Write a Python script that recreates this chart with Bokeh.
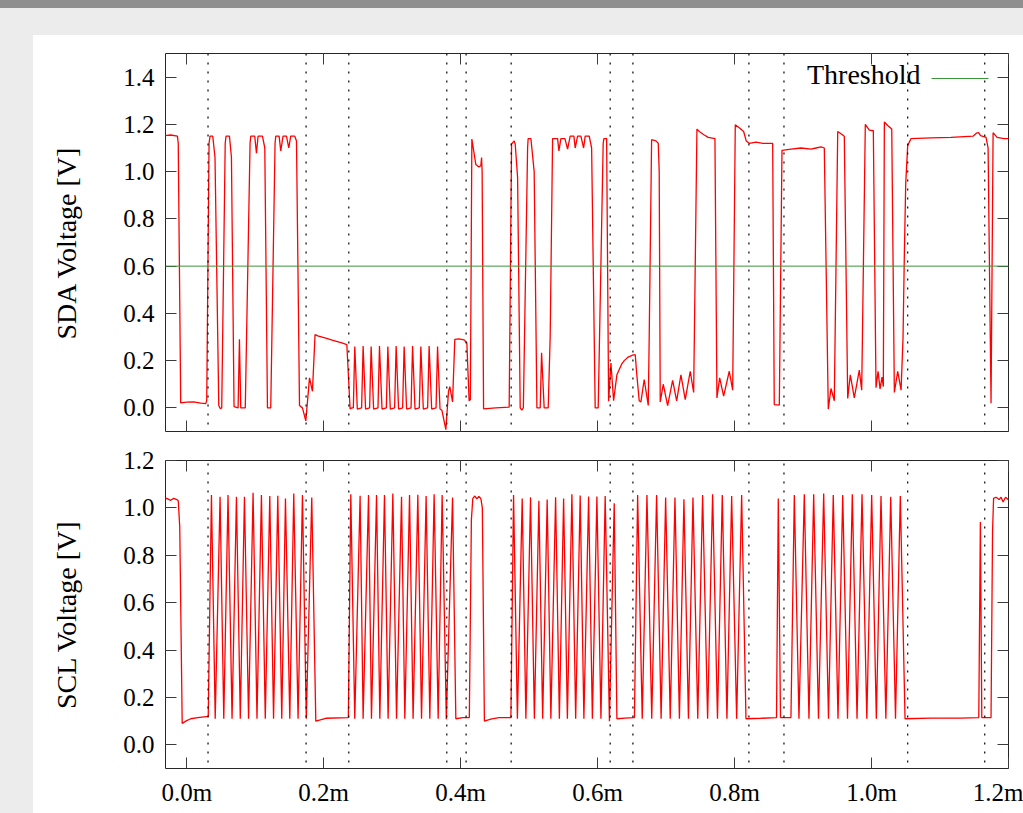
from bokeh.plotting import figure
from bokeh.models import (Range1d, LinearAxis, FixedTicker, PrintfTickFormatter,
                          CustomJSTickFormatter, Span, Arrow, Label, Spacer)
from bokeh.layouts import column, row
from bokeh.embed import file_html
from bokeh.resources import INLINE

# ---------------- data (time in ms, voltage in V) ----------------
sda_points = [
    (-0.0380, 1.15), (-0.0234, 1.155), (-0.0136, 1.15), (-0.0124, 1.12), (-0.0088, 0.021),
    (0.0000, 0.024), (0.0102, 0.025), (0.0205, 0.020), (0.0278, 0.018), (0.0292, 0.03),
    (0.0326, 1.12), (0.0340, 1.15), (0.0380, 1.15), (0.0413, 1.06), (0.0468, 0.01),
    (0.0489, -0.003), (0.0511, 0.0), (0.0562, 1.12), (0.0574, 1.15), (0.0624, 1.15),
    (0.0653, 1.06), (0.0691, 0.005), (0.0750, 0.0), (0.0770, 0.29), (0.0789, 0.0),
    (0.0855, 0.0), (0.0925, 1.12), (0.0935, 1.15), (0.0993, 1.15), (0.1018, 1.078),
    (0.1042, 1.15), (0.1106, 1.15), (0.1140, 1.10), (0.1179, 0.0), (0.1227, 0.0),
    (0.1290, 1.12), (0.1300, 1.15), (0.1349, 1.15), (0.1373, 1.088), (0.1407, 1.15),
    (0.1457, 1.15), (0.1490, 1.10), (0.1519, 1.15), (0.1578, 1.15), (0.1603, 1.13),
    (0.1647, 0.01), (0.1690, 0.0), (0.1739, -0.055), (0.1793, 0.127), (0.1836, 0.07),
    (0.1874, 0.31), (0.1914, 0.305), (0.2031, 0.295), (0.2148, 0.285), (0.2265, 0.275),
    (0.2338, 0.268), (0.2386, -0.005), (0.2411, 0.0),
    (0.2433, 0.0), (0.2454, 0.26), (0.2491, -0.005),
    (0.2554, 0.0), (0.2576, 0.262), (0.2612, -0.005),
    (0.2671, 0.0), (0.2693, 0.26), (0.2729, -0.005),
    (0.2793, 0.0), (0.2815, 0.262), (0.2852, -0.005),
    (0.2915, 0.0), (0.2937, 0.26), (0.2973, -0.005),
    (0.3036, 0.0), (0.3058, 0.262), (0.3094, -0.005),
    (0.3153, 0.0), (0.3175, 0.26), (0.3211, -0.005),
    (0.3276, 0.0), (0.3298, 0.262), (0.3334, -0.005),
    (0.3397, 0.0), (0.3419, 0.26), (0.3455, -0.005),
    (0.3518, 0.0), (0.3540, 0.262), (0.3577, -0.005),
    (0.3641, 0.0), (0.3663, 0.26), (0.3699, -0.005),
    (0.3726, -0.01), (0.3784, -0.092), (0.3823, 0.07), (0.3842, 0.09), (0.3882, 0.025),
    (0.3915, 0.29), (0.3974, 0.292), (0.4051, 0.288), (0.4091, 0.275), (0.4124, 0.03),
    (0.4142, 0.035), (0.4164, 1.138), (0.4222, 1.03), (0.4266, 1.02), (0.4295, 1.025),
    (0.4306, 1.06), (0.4314, 1.0), (0.4335, -0.004), (0.4514, 0.0), (0.4709, 0.003),
    (0.4744, 1.117), (0.4782, 1.13), (0.4797, 1.117), (0.4832, 0.975), (0.4870, 0.0),
    (0.4894, -0.01), (0.4916, 0.0), (0.4978, 1.1), (0.4986, 1.14), (0.5026, 1.14),
    (0.5074, 1.0), (0.5114, 0.0), (0.5162, 0.0), (0.5182, 0.233), (0.5220, 0.0),
    (0.5279, 0.0), (0.5308, 0.304), (0.5343, 1.14), (0.5416, 1.14), (0.5435, 1.088),
    (0.5464, 1.14), (0.5523, 1.14), (0.5562, 1.095), (0.5600, 1.15), (0.5654, 1.15),
    (0.5673, 1.10), (0.5708, 1.15), (0.5756, 1.15), (0.5796, 1.10), (0.5819, 1.15),
    (0.5878, 1.15), (0.5913, 1.10), (0.5965, 0.0), (0.6009, 0.0), (0.6082, 1.12),
    (0.6092, 1.14), (0.6132, 1.14), (0.6161, 0.028), (0.6195, 0.19), (0.6234, 0.03),
    (0.6282, 0.14), (0.6351, 0.185), (0.6389, 0.20), (0.6447, 0.215), (0.6512, 0.223),
    (0.6550, 0.225), (0.6570, 0.15), (0.6608, 0.03), (0.6633, 0.025), (0.6681, 0.12),
    (0.6740, 0.01), (0.6754, 0.3), (0.6789, 1.135), (0.6852, 1.13), (0.6886, 1.12),
    (0.6900, 1.0), (0.6915, 0.025), (0.6959, 0.10), (0.7023, 0.01), (0.7096, 0.116),
    (0.7155, 0.03), (0.7217, 0.14), (0.7280, 0.035), (0.7353, 0.155), (0.7403, 0.065),
    (0.7451, 1.18), (0.7485, 1.17), (0.7558, 1.155), (0.7616, 1.145), (0.7714, 1.14),
    (0.7743, 0.042), (0.7783, 0.127), (0.7841, 0.05), (0.7923, 0.155), (0.7973, 0.075),
    (0.8011, 1.198), (0.8069, 1.186), (0.8133, 1.17), (0.8171, 1.13), (0.8215, 1.12),
    (0.8313, 1.125), (0.8415, 1.12), (0.8557, 1.12), (0.8580, 0.014), (0.8654, 0.012),
    (0.8693, 1.09), (0.8824, 1.095), (0.8971, 1.10), (0.9117, 1.095), (0.9190, 1.10),
    (0.9263, 1.105), (0.9311, 1.10), (0.9369, -0.005), (0.9409, 0.082), (0.9457, 0.03),
    (0.9507, 1.17), (0.9555, 1.16), (0.9603, 1.15), (0.9653, 0.04), (0.9691, 0.14),
    (0.9749, 0.042), (0.9822, 0.16), (0.9857, 0.075), (0.9910, 1.2), (0.9968, 1.176),
    (1.0027, 1.173), (1.0066, 0.085), (1.0096, 0.155), (1.0125, 0.08), (1.0154, 0.13),
    (1.0173, 0.09), (1.0188, 1.21), (1.0237, 1.195), (1.0296, 1.18), (1.0334, 0.065),
    (1.0383, 0.155), (1.0432, 0.075), (1.0461, 0.3), (1.0480, 0.65), (1.0500, 0.95),
    (1.0529, 1.11), (1.0578, 1.14), (1.0870, 1.143), (1.1162, 1.145), (1.1483, 1.15),
    (1.1535, 1.163), (1.1564, 1.165), (1.1593, 1.152), (1.1673, 1.145), (1.1703, 1.10),
    (1.1746, 0.02), (1.1776, 1.165), (1.1834, 1.145), (1.1936, 1.14), (1.2068, 1.14),
]

scl_points = [
    (-0.0380, 1.035), (-0.0292, 1.04), (-0.0234, 1.032), (-0.0190, 1.04), (-0.0146, 1.035),
    (-0.0124, 1.03), (-0.0102, 0.92), (-0.0066, 0.09), (-0.0015, 0.10), (0.0058, 0.11),
    (0.0161, 0.115), (0.0314, 0.12),
    # burst 1
    (0.0361, 1.054), (0.0416, 0.11), (0.0487, 1.047), (0.0541, 0.11), (0.0603, 1.054),
    (0.0662, 0.11), (0.0726, 1.047), (0.0782, 0.11), (0.0843, 1.047), (0.0903, 0.11),
    (0.0969, 1.064), (0.1026, 0.11), (0.1091, 1.054), (0.1147, 0.11), (0.1213, 1.050),
    (0.1268, 0.11), (0.1330, 1.051), (0.1388, 0.11), (0.1442, 1.040), (0.1505, 0.11),
    (0.1563, 1.061), (0.1626, 0.11), (0.1690, 1.054), (0.1746, 0.11), (0.1826, 1.044),
    (0.1885, 0.10), (0.2031, 0.112), (0.2360, 0.115),
    # burst 2
    (0.2396, 1.058), (0.2454, 0.11), (0.2532, 1.051), (0.2576, 0.11), (0.2655, 1.054),
    (0.2698, 0.11), (0.2772, 1.054), (0.2820, 0.11), (0.2888, 1.054), (0.2941, 0.11),
    (0.3010, 1.061), (0.3064, 0.11), (0.3137, 1.047), (0.3185, 0.11), (0.3254, 1.054),
    (0.3306, 0.11), (0.3375, 1.055), (0.3429, 0.11), (0.3496, 1.050), (0.3550, 0.11),
    (0.3613, 1.058), (0.3672, 0.11), (0.3730, 1.054), (0.3791, 0.108), (0.3882, 1.044),
    (0.3930, 0.11), (0.4032, 0.115), (0.4127, 0.115), (0.4157, 0.95), (0.4178, 1.04),
    (0.4208, 1.05), (0.4237, 1.038), (0.4266, 1.048), (0.4295, 1.04), (0.4317, 1.0),
    (0.4347, 0.10), (0.4441, 0.108), (0.4558, 0.115), (0.4734, 0.115),
    # burst 3
    (0.4773, 1.054), (0.4829, 0.11), (0.4899, 1.04), (0.4953, 0.11), (0.5021, 1.045),
    (0.5077, 0.11), (0.5143, 1.03), (0.5198, 0.11), (0.5264, 1.035), (0.5318, 0.11),
    (0.5387, 1.045), (0.5442, 0.11), (0.5504, 1.04), (0.5559, 0.11), (0.5625, 1.058),
    (0.5680, 0.11), (0.5746, 1.052), (0.5800, 0.11), (0.5869, 1.048), (0.5924, 0.11),
    (0.5990, 1.048), (0.6049, 0.11), (0.6111, 1.05), (0.6173, 0.10), (0.6243, 1.02),
    (0.6282, 0.11), (0.6399, 0.113), (0.6538, 0.115),
    # burst 4
    (0.6585, 1.054), (0.6652, 0.11), (0.6721, 1.054), (0.6791, 0.11), (0.6862, 1.054),
    (0.6928, 0.11), (0.6994, 1.044), (0.7061, 0.11), (0.7130, 1.044), (0.7195, 0.11),
    (0.7261, 1.036), (0.7327, 0.11), (0.7393, 1.044), (0.7463, 0.11), (0.7534, 1.054),
    (0.7607, 0.11), (0.7680, 1.058), (0.7751, 0.11), (0.7821, 1.054), (0.7889, 0.11),
    (0.7958, 1.050), (0.8031, 0.11), (0.8104, 1.054), (0.8167, 0.11),
    (0.8386, 0.112), (0.8613, 0.115), (0.8639, 1.04), (0.8671, 0.115), (0.8824, 0.115),
    # burst 5
    (0.8873, 1.054), (0.8941, 0.11), (0.9019, 1.058), (0.9087, 0.11), (0.9156, 1.058),
    (0.9226, 0.11), (0.9302, 1.061), (0.9372, 0.11), (0.9442, 1.054), (0.9511, 0.11),
    (0.9580, 1.054), (0.9650, 0.11), (0.9720, 1.058), (0.9789, 0.11), (0.9862, 1.058),
    (0.9932, 0.11), (1.0003, 1.054), (1.0071, 0.11), (1.0139, 1.050), (1.0210, 0.11),
    (1.0281, 1.047), (1.0351, 0.11), (1.0421, 1.050), (1.0490, 0.11),
    (1.0870, 0.113), (1.1308, 0.113), (1.1567, 0.115), (1.1590, 0.94), (1.1611, 0.115),
    (1.1746, 0.115), (1.1768, 0.9), (1.1783, 1.04), (1.1820, 1.045), (1.1863, 1.035),
    (1.1893, 1.045), (1.1922, 1.025), (1.1958, 1.045), (1.1995, 1.035), (1.2068, 1.04),
]

marker_times = [0.0311, 0.1743, 0.2367, 0.3798, 0.4080, 0.4738,
                0.6184, 0.6516, 0.8210, 0.8722, 1.0529, 1.1654]
threshold_v = 0.6
threshold_label = "Threshold"

x_ticks = [0.0, 0.2, 0.4, 0.6, 0.8, 1.0, 1.2]
sda_ticks = [0.0, 0.2, 0.4, 0.6, 0.8, 1.0, 1.2, 1.4]
scl_ticks = [0.0, 0.2, 0.4, 0.6, 0.8, 1.0, 1.2]
x_limits = (-0.031, 1.2001)
sda_limits = (-0.1, 1.5)
scl_limits = (-0.1, 1.2)
sda_label = "SDA Voltage [V]"
scl_label = "SCL Voltage [V]"

sda_t = [p[0] for p in sda_points]
sda_v = [p[1] for p in sda_points]
scl_t = [p[0] for p in scl_points]
scl_v = [p[1] for p in scl_points]

# ---------------- style ----------------
FONT = "Liberation Serif"
RED = "#ff0000"
GREEN = "#3a943a"
FRAME = "#262626"
TICK = "#3c3c3c"
GRAY = "#ececec"
DARK = "#8f8f8f"
FIG_W = 990
BORDER_L, BORDER_R = 132, 15
DASH = "2 7"


def style_axis(ax, ticks, fmt, labels):
    ax.ticker = FixedTicker(ticks=ticks)
    if labels:
        ax.formatter = PrintfTickFormatter(format=fmt)
    else:
        ax.formatter = CustomJSTickFormatter(code="return ''")
    ax.axis_line_color = None
    ax.major_tick_in = 11
    ax.major_tick_out = 0
    ax.major_tick_line_color = TICK
    ax.major_tick_line_width = 1
    ax.minor_tick_line_color = None
    ax.major_label_text_font = FONT
    ax.major_label_text_font_size = "25px"
    ax.major_label_text_color = "black"


def make_fig(height, y_limits, y_ticks, y_label, x_labels, b_top, b_bottom):
    p = figure(width=FIG_W, height=height,
               x_range=Range1d(*x_limits), y_range=Range1d(*y_limits),
               output_backend="svg", toolbar_location=None,
               min_border_left=BORDER_L, min_border_right=BORDER_R,
               min_border_top=b_top, min_border_bottom=b_bottom)
    p.grid.grid_line_color = None
    p.background_fill_color = "white"
    p.border_fill_color = "white"
    p.outline_line_color = FRAME
    p.outline_line_width = 1
    p.outline_line_alpha = 1.0

    xb = p.xaxis[0]
    style_axis(xb, x_ticks, "%.1fm", x_labels)
    xb.major_label_standoff = 10 if x_labels else 0
    yl = p.yaxis[0]
    style_axis(yl, y_ticks, "%.1f", True)
    yl.major_label_standoff = 11
    yl.axis_label = y_label
    yl.axis_label_text_font = FONT
    yl.axis_label_text_font_size = "28px"
    yl.axis_label_text_font_style = "normal"
    yl.axis_label_text_color = "black"
    yl.axis_label_standoff = 38

    xt = LinearAxis()
    style_axis(xt, x_ticks, "", False)
    xt.major_label_standoff = 0
    p.add_layout(xt, "above")
    yr = LinearAxis()
    style_axis(yr, y_ticks, "", False)
    yr.major_label_standoff = 0
    p.add_layout(yr, "right")
    return p


TOP_H, BOT_H = 410, 368
top_b_top, top_b_bottom = 18, 14
bot_b_top, bot_b_bottom = 15, 45

p1 = make_fig(TOP_H, sda_limits, sda_ticks, sda_label, False, top_b_top, top_b_bottom)
p2 = make_fig(BOT_H, scl_limits, scl_ticks, scl_label, True, bot_b_top, bot_b_bottom)

p1.line(sda_t, sda_v, line_color=RED, line_width=1.3)
p2.line(scl_t, scl_v, line_color=RED, line_width=1.3)

p1.add_layout(Span(location=threshold_v, dimension="width", line_color=GREEN, line_width=1))

# dotted boundary markers, running through the gap between the two panels
top_frame_h = TOP_H - top_b_top - top_b_bottom
bot_frame_h = BOT_H - bot_b_top - bot_b_bottom
top_ext = sda_limits[0] - top_b_bottom * (sda_limits[1] - sda_limits[0]) / top_frame_h
bot_ext = scl_limits[1] + bot_b_top * (scl_limits[1] - scl_limits[0]) / bot_frame_h
for t in marker_times:
    p1.add_layout(Arrow(end=None, x_start=t, y_start=sda_limits[1], x_end=t, y_end=top_ext,
                        line_color="black", line_width=1.2, line_dash=DASH))
    p2.add_layout(Arrow(end=None, x_start=t, y_start=bot_ext, x_end=t, y_end=scl_limits[0],
                        line_color="black", line_width=1.2, line_dash=DASH))

# legend: text then line sample, top-right inside the frame
p1.add_layout(Label(x=755, y=357.5, x_units="screen", y_units="screen", text=threshold_label,
                    text_align="right", text_baseline="alphabetic", text_font=FONT,
                    text_font_size="28px", text_color="black"))
p1.add_layout(Arrow(end=None, x_start=766, y_start=353, x_end=823, y_end=353,
                    start_units="screen", end_units="screen", line_color=GREEN, line_width=1))

dark_strip = Spacer(width=1023, height=8, styles={"background-color": DARK})
top_strip = Spacer(width=1023, height=27, styles={"background-color": GRAY})
left_strip = Spacer(width=33, height=TOP_H + BOT_H, styles={"background-color": GRAY})
layout = column(dark_strip, top_strip, row(left_strip, column(p1, p2)))

open("out.html", "w").write(file_html(layout, INLINE))
